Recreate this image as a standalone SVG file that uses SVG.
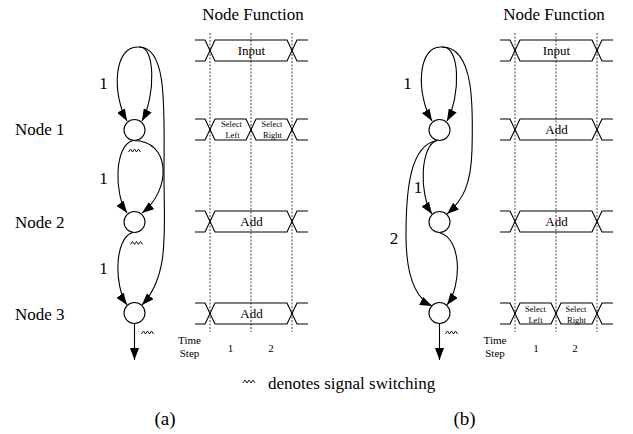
<svg xmlns="http://www.w3.org/2000/svg" width="633" height="434" viewBox="0 0 633 434">
<defs>
<style>
text{font-family:"Liberation Serif","Times New Roman",serif;fill:#000}
.big{font-size:17px}
.lab{font-size:17px;text-anchor:middle}
.fn{font-size:13px;text-anchor:middle}
.sm{font-size:8.5px;text-anchor:middle}
.ts{font-size:11px;text-anchor:middle}
.cap{font-size:19px;text-anchor:middle}
.node{fill:#fff;stroke:#000;stroke-width:1.1}
.edge{fill:none;stroke:#000;stroke-width:1.1}
.row{fill:none;stroke:#000;stroke-width:1.1}
.dash{stroke:#444;stroke-width:1;stroke-dasharray:2,1.5}
.zz{fill:none;stroke:#000;stroke-width:0.9}
</style>
<marker id="ah" markerUnits="userSpaceOnUse" markerWidth="12" markerHeight="9" refX="12" refY="4.5" orient="auto">
<path d="M0,0 L12,4.5 L0,9 z" fill="#000"/>
</marker>
<path id="sw" class="zz" d="M0,3 l2,-3 l2,3 l2,-3 l2,3 l2,-3 l2,3"/>
</defs>

<!-- Titles -->
<text class="lab" x="253" y="20">Node Function</text>
<text class="lab" x="554" y="20">Node Function</text>

<!-- Node labels (a) -->
<text class="big" x="15" y="135">Node 1</text>
<text class="big" x="15" y="228">Node 2</text>
<text class="big" x="15" y="320">Node 3</text>

<!-- Dashed time lines -->
<g id="timelines">
<line class="dash" x1="210" y1="33" x2="210" y2="332"/>
<line class="dash" x1="251" y1="33" x2="251" y2="332"/>
<line class="dash" x1="292" y1="33" x2="292" y2="332"/>
<line class="dash" x1="515" y1="33" x2="515" y2="332"/>
<line class="dash" x1="556" y1="33" x2="556" y2="332"/>
<line class="dash" x1="597" y1="33" x2="597" y2="332"/>
</g>

<!-- Timing rows (a) -->
<g id="row-a-input">
<polyline class="row" points="195,40 205,40 215,61 287,61 297,40 308,40"/>
<polyline class="row" points="195,61 205,61 215,40 287,40 297,61 308,61"/>
<text class="fn" x="251.5" y="55">Input</text>
</g>
<g id="row-a-node1">
<polyline class="row" points="195,119 205,119 215,140 246,140 256,119 287,119 297,140 308,140"/>
<polyline class="row" points="195,140 205,140 215,119 246,119 256,140 287,140 297,119 308,119"/>
<text class="sm" x="231.5" y="127.3">Select</text>
<text class="sm" x="232.5" y="138.3">Left</text>
<text class="sm" x="272" y="127.3">Select</text>
<text class="sm" x="272.5" y="138.3">Right</text>
</g>
<g id="row-a-node2">
<polyline class="row" points="195,211 205,211 215,232 287,232 297,211 308,211"/>
<polyline class="row" points="195,232 205,232 215,211 287,211 297,232 308,232"/>
<text class="fn" x="251.5" y="226">Add</text>
</g>
<g id="row-a-node3">
<polyline class="row" points="195,303 205,303 215,324 287,324 297,303 308,303"/>
<polyline class="row" points="195,324 205,324 215,303 287,303 297,324 308,324"/>
<text class="fn" x="251.5" y="318">Add</text>
</g>
<g id="timestep-a">
<text class="ts" x="189.5" y="344">Time</text>
<text class="ts" x="189.5" y="356.5">Step</text>
<text class="ts" x="230.5" y="351.5">1</text>
<text class="ts" x="271" y="351.5">2</text>
</g>

<!-- Timing rows (b) -->
<g id="row-b-input">
<polyline class="row" points="500,40 510,40 520,61 592,61 602,40 613,40"/>
<polyline class="row" points="500,61 510,61 520,40 592,40 602,61 613,61"/>
<text class="fn" x="556.5" y="55">Input</text>
</g>
<g id="row-b-node1">
<polyline class="row" points="500,119 510,119 520,140 592,140 602,119 613,119"/>
<polyline class="row" points="500,140 510,140 520,119 592,119 602,140 613,140"/>
<text class="fn" x="556.5" y="134">Add</text>
</g>
<g id="row-b-node2">
<polyline class="row" points="500,211 510,211 520,232 592,232 602,211 613,211"/>
<polyline class="row" points="500,232 510,232 520,211 592,211 602,232 613,232"/>
<text class="fn" x="556.5" y="226">Add</text>
</g>
<g id="row-b-node3">
<polyline class="row" points="500,303 510,303 520,324 551,324 561,303 592,303 602,324 613,324"/>
<polyline class="row" points="500,324 510,324 520,303 551,303 561,324 592,324 602,303 613,303"/>
<text class="sm" x="535.5" y="311.5">Select</text>
<text class="sm" x="535.5" y="322.5">Left</text>
<text class="sm" x="576" y="311.5">Select</text>
<text class="sm" x="576.5" y="322.5">Right</text>
</g>
<g id="timestep-b">
<text class="ts" x="495" y="344">Time</text>
<text class="ts" x="495" y="356.5">Step</text>
<text class="ts" x="536" y="351.5">1</text>
<text class="ts" x="575" y="351.5">2</text>
</g>

<!-- Connectors -->
<g id="connectors">
<!-- (a) -->
<path class="edge" marker-end="url(#ah)" d="M139,47 C113,45 112,95 127,121"/>
<path class="edge" marker-end="url(#ah)" d="M139,47 C155,45 156,95 142,121"/>
<path class="edge" marker-end="url(#ah)" d="M139,47 C168,47 164,110 164,175 C164,230 170,275 142,305"/>
<path class="edge" marker-end="url(#ah)" d="M133,140.5 C114,145 114,195 127,213"/>
<path class="edge" marker-end="url(#ah)" d="M133,140.5 C171,140 172,190 142,213"/>
<path class="edge" marker-end="url(#ah)" d="M133,232.5 C114,237 114,287 127,305"/>
<path class="edge" marker-end="url(#ah)" d="M134.5,323.5 L134.5,360"/>
<!-- (b) -->
<path class="edge" marker-end="url(#ah)" d="M442,47 C417,45 416,95 432,121"/>
<path class="edge" marker-end="url(#ah)" d="M442,47 C460,45 461,95 447,121"/>
<path class="edge" marker-end="url(#ah)" d="M442,47 C475,47 473,110 472,150 C471,185 463,200 447,214"/>
<path class="edge" marker-end="url(#ah)" d="M437,140.5 C420,145 419,195 432,214"/>
<path class="edge" marker-end="url(#ah)" d="M437,140.5 C410,145 406,190 406,235 C406,275 415,298 432,306"/>
<path class="edge" marker-end="url(#ah)" d="M439,232.5 C462,238 462,285 447,305"/>
<path class="edge" marker-end="url(#ah)" d="M439.5,323.5 L439.5,360"/>
</g>

<!-- Nodes (a) -->
<g id="node1-a"><circle class="node" cx="134.5" cy="130" r="10.5"/><use href="#sw" x="128.5" y="149"/></g>
<g id="node2-a"><circle class="node" cx="134.5" cy="222" r="10.5"/><use href="#sw" x="130.5" y="241.5"/></g>
<g id="node3-a"><circle class="node" cx="134.5" cy="313" r="10.5"/><use href="#sw" x="141.5" y="331"/></g>
<!-- Nodes (b) -->
<g id="node1-b"><circle class="node" cx="439.5" cy="130" r="10.5"/></g>
<g id="node2-b"><circle class="node" cx="439.5" cy="222" r="10.5"/></g>
<g id="node3-b"><circle class="node" cx="439.5" cy="313" r="10.5"/><use href="#sw" x="445.5" y="331"/></g>

<!-- Edge labels -->
<g id="edge-labels">
<text class="lab" x="103.5" y="88.5">1</text>
<text class="lab" x="103.5" y="184">1</text>
<text class="lab" x="103.5" y="274">1</text>
<text class="lab" x="407.5" y="88.5">1</text>
<text class="lab" x="418" y="193">1</text>
<text class="lab" x="394" y="243.5">2</text>
</g>

<!-- Legend -->
<g id="legend">
<use href="#sw" x="243" y="380"/>
<text class="big" x="268" y="389">denotes signal switching</text>
</g>

<text class="cap" x="165" y="425">(a)</text>
<text class="cap" x="464.5" y="425">(b)</text>
</svg>
